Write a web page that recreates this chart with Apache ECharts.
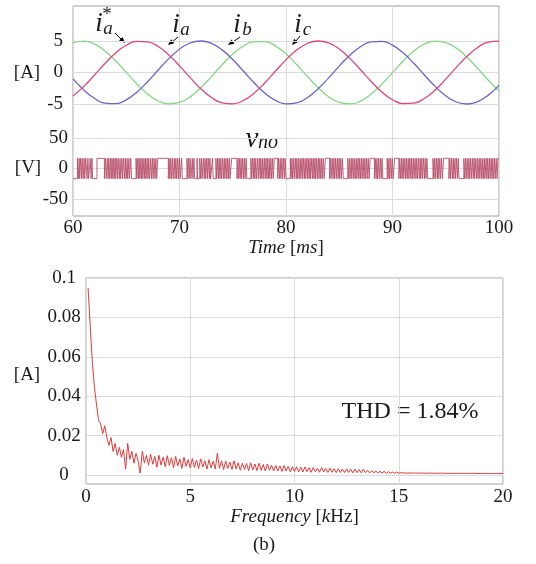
<!DOCTYPE html>
<html><head><meta charset="utf-8">
<script src="https://cdn.jsdelivr.net/npm/echarts@6/dist/echarts.min.js"></script>
<style>html,body{margin:0;padding:0;background:#fff}#c{width:536px;height:564px}</style>
</head><body><div id="c"></div>
<script>
// ---- Currents (sampled every 1 ms from 60 to 100 ms) ----
const timeStart = 60, timeStep = 1;
const ia = [-3.73,-2.24,-0.44,1.43,3.09,4.32,4.94,4.87,4.12,2.79,1.06,-0.81,-2.57,-3.97,-4.81,-4.97,-4.44,-3.28,-1.66,0.19,2.01,3.56,4.60,5.00,4.69,3.73,2.24,0.44,-1.43,-3.09,-4.32,-4.94,-4.87,-4.12,-2.79,-1.06,0.81,2.57,3.97,4.81,4.97];
const ib = [-1.02,-2.75,-4.09,-4.86,-4.95,-4.34,-3.12,-1.47,0.40,2.20,3.70,4.68,5.00,4.62,3.59,2.05,0.23,-1.62,-3.25,-4.42,-4.97,-4.82,-4.00,-2.61,-0.85,1.02,2.75,4.09,4.86,4.95,4.34,3.12,1.47,-0.40,-2.20,-3.70,-4.68,-5.00,-4.62,-3.59,-2.05];
const ic = [4.75,4.99,4.53,3.43,1.86,0.02,-1.82,-3.40,-4.52,-4.99,-4.76,-3.87,-2.43,-0.65,1.22,2.92,4.21,4.90,4.91,4.23,2.96,1.26,-0.60,-2.39,-3.84,-4.75,-4.99,-4.53,-3.43,-1.86,-0.02,1.82,3.40,4.52,4.99,4.76,3.87,2.43,0.65,-1.22,-2.92];

// ---- v_no switching waveform: toggle instants [ms], alternating low/high ----
const vnoLow = -16.7, vnoHigh = 16.7;
const vnoToggles = [60.42,60.50,60.58,60.63,60.72,60.80,60.86,60.95,61.05,61.10,61.20,61.32,61.40,61.46,61.62,61.70,61.78,61.84,
62.25,62.95,63.05,63.12,63.22,63.30,63.36,63.45,63.52,63.60,63.66,63.74,63.80,63.88,63.95,64.02,64.10,64.18,64.24,64.35,64.42,64.48,64.60,64.66,64.75,64.86,64.92,65.00,65.08,65.14,65.25,65.30,65.42,65.50,
65.92,66.00,66.06,66.15,66.20,66.28,66.36,66.42,66.50,66.56,66.66,66.74,66.80,66.86,66.96,67.04,67.12,67.18,67.30,67.36,67.46,67.52,67.62,67.70,67.78,67.86,67.95,
68.95,69.02,69.10,69.18,69.24,69.34,69.40,69.52,69.58,69.66,69.74,69.84,69.90,70.00,70.06,
70.20,70.26,70.70,70.78,70.86,70.92,71.00,71.08,71.20,71.26,71.36,71.42,
71.65,71.70,71.90,71.98,72.06,72.12,72.24,72.32,72.40,72.46,72.56,72.62,72.70,72.80,72.86,72.92,
73.10,73.16,73.42,73.50,73.58,73.66,73.72,73.80,73.88,73.94,74.04,74.12,74.20,74.26,74.36,74.44,74.52,74.58,74.68,74.74,
74.90,75.40,75.48,75.56,75.62,75.70,75.78,75.84,75.94,76.02,76.10,76.16,76.26,76.32,
76.70,76.78,76.86,76.94,77.00,77.08,77.16,77.22,77.34,77.40,77.50,77.58,77.64,77.72,77.80,77.86,77.96,78.04,78.12,78.20,78.26,78.34,78.42,78.48,78.58,78.64,78.74,78.80,
78.90,79.22,79.30,79.38,79.46,79.52,79.62,79.68,79.78,79.86,79.92,80.00,
80.40,80.48,80.56,80.62,80.72,80.78,80.88,80.96,81.02,81.10,81.18,81.24,81.34,81.40,81.50,81.56,81.64,81.72,81.80,81.86,81.96,82.04,82.10,82.18,82.26,82.32,82.42,82.50,82.56,82.64,82.72,82.78,82.88,82.94,83.04,83.10,83.18,83.26,83.34,83.40,83.50,83.58,
83.70,84.10,84.18,84.24,84.34,84.42,84.50,84.56,84.66,84.72,84.82,84.90,84.98,85.04,85.14,85.20,85.30,85.38,
85.80,85.88,85.96,86.02,86.12,86.18,86.28,86.36,86.44,86.50,86.60,86.66,86.76,86.84,86.92,86.98,87.08,87.14,87.24,87.32,87.40,87.46,87.56,87.62,87.72,87.80,
87.90,88.30,88.38,88.46,88.54,88.60,88.70,88.76,88.86,88.94,89.02,89.08,
89.50,89.58,89.66,89.72,89.82,89.88,89.98,90.06,
90.20,90.60,90.68,90.76,90.84,90.90,91.00,91.06,91.16,91.24,91.32,91.38,91.48,91.54,91.64,91.72,91.80,91.86,91.96,92.02,92.12,92.20,92.28,92.34,92.44,92.52,92.60,92.66,92.76,92.82,92.92,93.00,93.08,93.14,93.24,93.30,
93.80,93.88,93.96,94.02,94.12,94.20,94.28,94.34,94.44,94.50,94.60,94.68,
94.80,95.30,95.38,95.44,95.54,95.62,95.70,95.76,95.86,95.92,96.02,96.10,96.18,96.24,
96.70,96.78,96.86,96.92,97.02,97.10,97.18,97.24,97.34,97.40,97.50,97.58,97.66,97.72,97.82,97.90,97.98,98.04,98.14,98.20,98.30,98.38,98.46,98.52,98.62,98.68,98.78,98.86,98.94,99.00,99.10,99.16,99.26,99.34,99.42,99.48,99.58,99.64,99.74,99.82,99.90];

// ---- Spectrum amplitude [A], every 0.1 kHz from 0.1 to 20 kHz ----
const specStep = 0.1;
const spectrum = [
0.095,0.076,0.058,0.045,0.036,0.028,0.026,0.021,0.025,0.019,
0.015,0.019,0.012,0.016,0.010,0.014,0.009,0.013,0.003,0.016,
0.008,0.012,0.006,0.011,0.007,0.001,0.012,0.006,0.010,0.005,
0.0105,0.0055,0.0095,0.0040,0.0100,0.0050,0.0090,0.0042,0.0098,0.0048,
0.0088,0.0036,0.0094,0.0046,0.0082,0.0034,0.0090,0.0044,0.0078,0.0036,
0.0084,0.0038,0.0076,0.0032,0.0082,0.0040,0.0072,0.0030,0.0078,0.0036,
0.0070,0.0030,0.0110,0.0034,0.0072,0.0028,0.0070,0.0034,0.0066,0.0028,
0.0072,0.0030,0.0062,0.0024,0.0060,0.0028,0.0058,0.0022,0.0062,0.0026,
0.0056,0.0022,0.0060,0.0024,0.0054,0.0020,0.0056,0.0024,0.0050,0.0020,
0.0048,0.0020,0.0046,0.0018,0.0048,0.0020,0.0044,0.0016,0.0042,0.0018,
0.0042,0.0016,0.0040,0.0015,0.0041,0.0017,0.0037,0.0014,0.0038,0.0016,
0.0034,0.0014,0.0038,0.0015,0.0033,0.0013,0.0035,0.0014,0.0032,0.0012,
0.0032,0.0013,0.0030,0.0012,0.0031,0.0013,0.0028,0.0011,0.0030,0.0012,
0.0027,0.0011,0.0029,0.0012,0.0024,0.0010,0.0022,0.0011,0.0020,0.0010,
0.0019,0.0010,0.0018,0.0009,0.0017,0.0009,0.0015,0.0009,0.0015,0.0009,
0.0012,0.0010,0.0011,0.0009,0.0011,0.0009,0.0011,0.0009,0.0010,0.0010,
0.0009,0.0010,0.0008,0.0010,0.0009,0.0010,0.0008,0.0009,0.0008,0.0010,
0.0008,0.0009,0.0008,0.0009,0.0008,0.0009,0.0008,0.0009,0.0008,0.0009,
0.0008,0.0009,0.0007,0.0009,0.0008,0.0009,0.0008,0.0008,0.0007,0.0009,
0.0008,0.0008,0.0007,0.0008,0.0008,0.0007,0.0008,0.0008,0.0007,0.0008];

// ---- tick settings ----
const timeTicks = {min: 60, max: 100, interval: 10};
const currentTicks = {min: -5, max: 5, interval: 5};
const voltageTicks = {min: -50, max: 50, interval: 50};
const freqTicks = {min: 0, max: 20, interval: 5};
const ampTicks = {min: 0, max: 0.1, interval: 0.02};

// ---- build series data ----
const toPairs = (arr) => arr.map((v, i) => [timeStart + i * timeStep, v]);
const vnoData = [[timeStart, vnoLow]];
let lvl = vnoLow;
vnoToggles.forEach(t => { lvl = (lvl === vnoLow) ? vnoHigh : vnoLow; vnoData.push([t, lvl]); });
vnoData.push([timeTicks.max, lvl]);
const specData = spectrum.map((v, i) => [+((i + 1) * specStep).toFixed(2), v]);

const FF = 'Liberation Serif';
const TXT = '#1a1a1a';
const GRIDC = '#dcdcdc';
const BORDER = '#a0a0a0';
const lbl = {fontFamily: FF, fontSize: 19, color: TXT};

const chart = echarts.init(document.getElementById('c'), null, {renderer: 'canvas'});

function hiddenAxis(grid, rng) {
  return Object.assign({gridIndex: grid, type: 'value', show: false, splitLine: {show: false}}, rng);
}

const option = {
  animation: false,
  backgroundColor: '#fff',
  grid: [
    {left: 73, top: 6, width: 426, height: 210, show: true, borderColor: BORDER, borderWidth: 1, backgroundColor: 'transparent', outerBoundsMode: 'none'},
    {left: 73, top: 41, width: 426, height: 63, outerBoundsMode: 'none'},
    {left: 73, top: 138, width: 426, height: 61, outerBoundsMode: 'none'},
    {left: 86, top: 278, width: 417, height: 206, show: true, borderColor: BORDER, borderWidth: 1, backgroundColor: 'transparent', outerBoundsMode: 'none'},
    {left: 86, top: 278, width: 417, height: 197, outerBoundsMode: 'none'}
  ],
  xAxis: [
    Object.assign({gridIndex: 0, type: 'value', axisLine: {show: false}, axisTick: {show: false},
      axisLabel: Object.assign({margin: 3}, lbl),
      splitLine: {show: true, lineStyle: {color: GRIDC, width: 1}},
      name: '{i|Time} [{i|ms}]', nameLocation: 'middle', nameGap: 18,
      nameTextStyle: Object.assign({rich: {i: {fontFamily: FF, fontSize: 19, fontStyle: 'italic', color: TXT}}}, lbl)
    }, timeTicks),
    hiddenAxis(1, timeTicks),
    hiddenAxis(2, timeTicks),
    Object.assign({gridIndex: 3, type: 'value', axisLine: {show: false}, axisTick: {show: false},
      axisLabel: Object.assign({margin: 4}, lbl),
      splitLine: {show: true, lineStyle: {color: GRIDC, width: 1}},
      name: '{i|Frequency} [{i|k}Hz]', nameLocation: 'middle', nameGap: 21,
      nameTextStyle: Object.assign({rich: {i: {fontFamily: FF, fontSize: 19, fontStyle: 'italic', color: TXT}}}, lbl)
    }, freqTicks),
    hiddenAxis(4, freqTicks)
  ],
  yAxis: [
    {gridIndex: 0, type: 'value', show: false, min: 0, max: 1, splitLine: {show: false}},
    Object.assign({gridIndex: 1, type: 'value', axisLine: {show: false}, axisTick: {show: false},
      axisLabel: Object.assign({margin: 10}, lbl),
      splitLine: {show: true, lineStyle: {color: GRIDC, width: 1}}}, currentTicks),
    Object.assign({gridIndex: 2, type: 'value', axisLine: {show: false}, axisTick: {show: false},
      axisLabel: Object.assign({margin: 5}, lbl),
      splitLine: {show: true, lineStyle: {color: GRIDC, width: 1}}}, voltageTicks),
    {gridIndex: 3, type: 'value', show: false, min: 0, max: 1, splitLine: {show: false}},
    Object.assign({gridIndex: 4, type: 'value', axisLine: {show: false}, axisTick: {show: false},
      axisLabel: Object.assign({margin: 22, align: 'center'}, lbl),
      splitLine: {show: true, lineStyle: {color: GRIDC, width: 1}}}, ampTicks)
  ],
  series: [
    {name: 'ia', type: 'line', xAxisIndex: 1, yAxisIndex: 1, data: toPairs(ia), smooth: true, showSymbol: false, clip: false,
      lineStyle: {color: '#e0457f', width: 1.3}, z: 5},
    {name: 'ib', type: 'line', xAxisIndex: 1, yAxisIndex: 1, data: toPairs(ib), smooth: true, showSymbol: false, clip: false,
      lineStyle: {color: '#6a64c8', width: 1.3}, z: 4},
    {name: 'ic', type: 'line', xAxisIndex: 1, yAxisIndex: 1, data: toPairs(ic), smooth: true, showSymbol: false, clip: false,
      lineStyle: {color: '#82d882', width: 1.3}, z: 3},
    {name: 'vno', type: 'line', xAxisIndex: 2, yAxisIndex: 2, data: vnoData, step: 'end', showSymbol: false, clip: false,
      lineStyle: {color: '#b8506a', width: 0.9}, z: 3},
    {name: 'spectrum', type: 'line', xAxisIndex: 4, yAxisIndex: 4, data: specData, showSymbol: false, clip: false,
      lineStyle: {color: '#e43a3a', width: 1}, z: 3}
  ],
  graphic: [
    {type: 'text', style: {text: '[A]', x: 27, y: 73, font: '19px "Liberation Serif"', fill: TXT, textAlign: 'center', textVerticalAlign: 'middle'}},
    {type: 'text', style: {text: '[V]', x: 28, y: 168, font: '19px "Liberation Serif"', fill: TXT, textAlign: 'center', textVerticalAlign: 'middle'}},
    {type: 'text', style: {text: '[A]', x: 27, y: 375, font: '19px "Liberation Serif"', fill: TXT, textAlign: 'center', textVerticalAlign: 'middle'}},
    {type: 'text', style: {text: 'THD = 1.84%', x: 410, y: 412, font: '24px "Liberation Serif"', fill: TXT, textAlign: 'center', textVerticalAlign: 'middle'}},
    {type: 'text', style: {text: '(b)', x: 264, y: 545, font: '19px "Liberation Serif"', fill: TXT, textAlign: 'center', textVerticalAlign: 'middle'}},
    // i_a*
    {type: 'text', style: {text: 'i', x: 99, y: 24, font: 'italic 27px "Liberation Serif"', fill: TXT, textAlign: 'center', textVerticalAlign: 'middle'}},
    {type: 'text', style: {text: 'a', x: 108, y: 29, font: 'italic 19px "Liberation Serif"', fill: TXT, textAlign: 'center', textVerticalAlign: 'middle'}},
    {type: 'text', style: {text: '*', x: 107, y: 15, font: '19px "Liberation Serif"', fill: TXT, textAlign: 'center', textVerticalAlign: 'middle'}},
    // i_a
    {type: 'text', style: {text: 'i', x: 176, y: 25, font: 'italic 27px "Liberation Serif"', fill: TXT, textAlign: 'center', textVerticalAlign: 'middle'}},
    {type: 'text', style: {text: 'a', x: 185, y: 30, font: 'italic 19px "Liberation Serif"', fill: TXT, textAlign: 'center', textVerticalAlign: 'middle'}},
    // i_b
    {type: 'text', style: {text: 'i', x: 237, y: 25, font: 'italic 27px "Liberation Serif"', fill: TXT, textAlign: 'center', textVerticalAlign: 'middle'}},
    {type: 'text', style: {text: 'b', x: 247, y: 30, font: 'italic 19px "Liberation Serif"', fill: TXT, textAlign: 'center', textVerticalAlign: 'middle'}},
    // i_c
    {type: 'text', style: {text: 'i', x: 298, y: 25, font: 'italic 27px "Liberation Serif"', fill: TXT, textAlign: 'center', textVerticalAlign: 'middle'}},
    {type: 'text', style: {text: 'c', x: 307, y: 30, font: 'italic 19px "Liberation Serif"', fill: TXT, textAlign: 'center', textVerticalAlign: 'middle'}},
    // v_no
    {type: 'text', style: {text: 'v', x: 252, y: 139, font: 'italic 29px "Liberation Serif"', fill: TXT, textAlign: 'center', textVerticalAlign: 'middle'}},
    {type: 'text', style: {text: 'no', x: 268, y: 143, font: 'italic 20px "Liberation Serif"', fill: TXT, textAlign: 'center', textVerticalAlign: 'middle'}},
    // arrows
    {type: 'line', shape: {x1: 115, y1: 33, x2: 122, y2: 40}, style: {stroke: '#000', lineWidth: 1}},
    {type: 'polygon', shape: {points: [[125, 43], [119.0, 40.6], [122.6, 37.0]]}, style: {fill: '#000'}},
    {type: 'line', shape: {x1: 178, y1: 37, x2: 172, y2: 42}, style: {stroke: '#000', lineWidth: 1}},
    {type: 'polygon', shape: {points: [[168, 45], [174.2, 43.2], [171.1, 39.3]]}, style: {fill: '#000'}},
    {type: 'line', shape: {x1: 240, y1: 37, x2: 233, y2: 42}, style: {stroke: '#000', lineWidth: 1}},
    {type: 'polygon', shape: {points: [[228, 45], [234.4, 43.75], [231.6, 39.6]]}, style: {fill: '#000'}},
    {type: 'line', shape: {x1: 300, y1: 36, x2: 296, y2: 41}, style: {stroke: '#000', lineWidth: 1}},
    {type: 'polygon', shape: {points: [[292, 45], [297.9, 42.2], [294.1, 38.8]]}, style: {fill: '#000'}}
  ]
};
chart.setOption(option);
</script></body></html>
